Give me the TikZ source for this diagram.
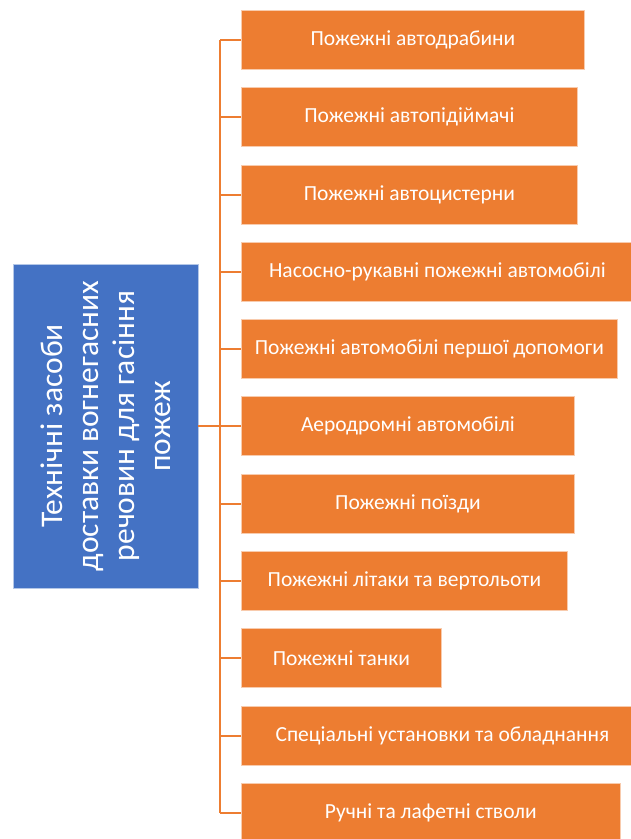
\documentclass[tikz,border=0pt]{standalone}
\usepackage{fontspec}
\setmainfont{Carlito}
\definecolor{orng}{HTML}{ED7D31}
\definecolor{blu}{HTML}{4472C4}
\begin{document}
\begin{tikzpicture}[x=1pt,y=-1pt,
  obox/.style={fill=orng, draw=white!60!orng, line width=0.8pt, inner sep=0pt,
    minimum height=59pt, anchor=north west, text=white, font=\fontsize{21.5}{25}\selectfont},
  hubbox/.style={fill=blu, draw=white!60!blu, line width=0.8pt, inner sep=0pt,
    minimum width=185pt, minimum height=324pt},
  hubtext/.style={rotate=90, text=white, align=center, font=\fontsize{31.5}{36}\selectfont},
  conn/.style={draw=orng, line width=2.5pt}]
\useasboundingbox (0,0) rectangle (630,839);
\fill[white] (0,0) rectangle (630,839);
\node[hubbox] (hub) at (105.5,426) {};
\node[hubtext] (hublabel) at (hub.center) {Технічні засоби\\доставки вогнегасних\\речовин для гасіння\\пожеж};
\node[obox, minimum width=343pt] (b1) at (241,10) {Пожежні автодрабини};
\node[obox, minimum width=336pt] (b2) at (241,87) {Пожежні автопідіймачі};
\node[obox, minimum width=336pt] (b3) at (241,165) {Пожежні автоцистерни};
\node[obox, minimum width=392pt] (b4) at (241,242) {Насосно-рукавні пожежні автомобілі};
\node[obox, minimum width=376pt] (b5) at (241,319) {Пожежні автомобілі першої допомоги};
\node[obox, minimum width=333pt] (b6) at (241,396) {Аеродромні автомобілі};
\node[obox, minimum width=333pt] (b7) at (241,474) {Пожежні поїзди};
\node[obox, minimum width=326pt] (b8) at (241,551) {Пожежні літаки та вертольоти};
\node[obox, minimum width=200pt] (b9) at (241,628) {Пожежні танки};
\node[obox, minimum width=402pt] (b10) at (241,706) {Спеціальні установки та обладнання};
\node[obox, minimum width=379pt] (b11) at (241,783) {Ручні та лафетні стволи};
\coordinate (j) at (220,426);
\draw[conn] (hub.east |- j) -- (j);
\draw[conn] (b1.west -| j) -- (b11.west -| j);
\foreach \i in {1,...,11} {
  \draw[conn] (b\i.west -| j) -- (b\i.west);
}
\end{tikzpicture}
\end{document}
